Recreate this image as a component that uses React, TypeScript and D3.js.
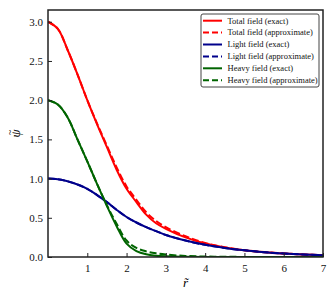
import { useEffect, useRef } from "react";
import * as d3 from "d3";

const rValues = [0, 0.25, 0.5, 0.75, 1, 1.25, 1.5, 1.75, 2, 2.25, 2.5, 2.75, 3, 3.5, 4, 4.5, 5, 5.5, 6, 6.5, 7];

const totalExact = [3.0, 2.91, 2.64, 2.33, 2.0, 1.69, 1.4, 1.11, 0.87, 0.7, 0.54, 0.43, 0.36, 0.25, 0.172, 0.122, 0.086, 0.062, 0.045, 0.032, 0.022];
const totalApprox = [3.0, 2.91, 2.64, 2.33, 2.0, 1.7, 1.42, 1.14, 0.9, 0.73, 0.57, 0.46, 0.38, 0.265, 0.178, 0.124, 0.087, 0.063, 0.045, 0.032, 0.022];
const lightExact = [1.0, 0.991, 0.965, 0.925, 0.87, 0.79, 0.7, 0.6, 0.51, 0.44, 0.38, 0.33, 0.28, 0.21, 0.155, 0.115, 0.085, 0.062, 0.045, 0.032, 0.022];
const lightApprox = [1.0, 0.991, 0.965, 0.925, 0.87, 0.79, 0.7, 0.6, 0.51, 0.44, 0.38, 0.33, 0.28, 0.21, 0.155, 0.115, 0.085, 0.062, 0.045, 0.032, 0.022];
const heavyExact = [2.0, 1.945, 1.78, 1.5, 1.22, 0.93, 0.65, 0.39, 0.17, 0.075, 0.034, 0.016, 0.008, 0.003, 0.001, 0, 0, 0, 0, 0, 0];
const heavyApprox = [2.0, 1.945, 1.78, 1.5, 1.22, 0.93, 0.66, 0.42, 0.21, 0.115, 0.072, 0.047, 0.031, 0.014, 0.006, 0.003, 0.001, 0, 0, 0, 0];

const seriesNames = [
  "Total field (exact)",
  "Total field (approximate)",
  "Light field (exact)",
  "Light field (approximate)",
  "Heavy field (exact)",
  "Heavy field (approximate)",
];
const seriesValues = [totalExact, totalApprox, lightExact, lightApprox, heavyExact, heavyApprox];
const seriesColors = ["#ff0000", "#ff0000", "#00008b", "#00008b", "#006400", "#006400"];
const seriesDashed = [false, true, false, true, false, true];

const xTicks = [1, 2, 3, 4, 5, 6, 7];
const yTicks = [0, 0.5, 1, 1.5, 2, 2.5, 3];

const App = () => {
  const svgRef = useRef<SVGSVGElement>(null);
  const W = 336;
  const H = 300;
  const margin = { top: 10, right: 13, bottom: 43, left: 48 };

  useEffect(() => {
    const svg = d3.select(svgRef.current);
    svg.selectAll("*").remove();
    const font = "'Liberation Serif', 'Times New Roman', serif";

    const xScale = d3.scaleLinear().domain([0, 7]).range([margin.left, W - margin.right]);
    const yScale = d3.scaleLinear().domain([0, 3.15]).range([H - margin.bottom, margin.top]);

    svg
      .append("defs")
      .append("clipPath")
      .attr("id", "plotclip")
      .append("rect")
      .attr("x", margin.left)
      .attr("y", margin.top)
      .attr("width", W - margin.left - margin.right)
      .attr("height", H - margin.top - margin.bottom);

    // curves
    const line = d3
      .line<number>()
      .x((d, i) => xScale(rValues[i]))
      .y((d) => yScale(d))
      .curve(d3.curveCatmullRom.alpha(0.5));

    const plot = svg.append("g").attr("clip-path", "url(#plotclip)");
    seriesValues.forEach((vals, i) => {
      plot
        .append("path")
        .datum(vals)
        .attr("d", line)
        .attr("fill", "none")
        .attr("stroke", seriesColors[i])
        .attr("stroke-width", 2)
        .attr("stroke-dasharray", seriesDashed[i] ? "7,3" : null);
    });

    // axes
    const xAxis = d3.axisBottom(xScale).tickValues(xTicks).tickFormat(d3.format("d")).tickSizeInner(-4).tickSizeOuter(0).tickPadding(7);
    const yAxis = d3.axisLeft(yScale).tickValues(yTicks).tickFormat(d3.format(".1f")).tickSizeInner(-4).tickSizeOuter(0).tickPadding(5);

    const gx = svg.append("g").attr("transform", `translate(0, ${H - margin.bottom})`).call(xAxis);
    const gy = svg.append("g").attr("transform", `translate(${margin.left}, 0)`).call(yAxis);
    [gx, gy].forEach((g) => {
      g.select(".domain").remove();
      g.selectAll("line").attr("stroke", "#222").attr("stroke-width", 1);
      g.selectAll("text").attr("font-family", font).attr("font-size", 11).attr("fill", "#111");
    });

    // frame
    svg
      .append("rect")
      .attr("x", margin.left)
      .attr("y", margin.top)
      .attr("width", W - margin.left - margin.right)
      .attr("height", H - margin.top - margin.bottom)
      .attr("fill", "none")
      .attr("stroke", "#222")
      .attr("stroke-width", 1.5);

    // axis labels
    svg
      .append("text")
      .attr("x", (margin.left + W - margin.right) / 2)
      .attr("y", 287)
      .attr("text-anchor", "middle")
      .attr("font-family", font)
      .attr("font-style", "italic")
      .attr("font-size", 13)
      .text("r\u0303");

    const yl = svg
      .append("g")
      .attr("transform", `translate(20, ${(margin.top + H - margin.bottom) / 2}) rotate(-90)`);
    yl.append("text")
      .attr("text-anchor", "middle")
      .attr("font-family", font)
      .attr("font-style", "italic")
      .attr("font-size", 13)
      .text("\u03c8");
    yl.append("text")
      .attr("x", 1)
      .attr("y", -7)
      .attr("text-anchor", "middle")
      .attr("font-family", font)
      .attr("font-size", 10)
      .text("~");

    // legend
    const lg = svg.append("g").attr("transform", "translate(201, 14)");
    lg.append("rect")
      .attr("width", 118)
      .attr("height", 73)
      .attr("rx", 2)
      .attr("fill", "white")
      .attr("stroke", "#444")
      .attr("stroke-width", 1);
    seriesNames.forEach((name, i) => {
      const y = 6.7 + i * 11.9;
      lg.append("line")
        .attr("x1", 2)
        .attr("x2", 21)
        .attr("y1", y)
        .attr("y2", y)
        .attr("stroke", seriesColors[i])
        .attr("stroke-width", 2)
        .attr("stroke-dasharray", seriesDashed[i] ? "6,3" : null);
      lg.append("text")
        .attr("x", 26.5)
        .attr("y", y)
        .attr("dy", "0.33em")
        .attr("font-family", font)
        .attr("font-size", 8.5)
        .attr("fill", "#111")
        .text(name);
    });
  }, []);

  return <svg ref={svgRef} width={W} height={H} viewBox={`0 0 ${W} ${H}`} style={{ display: "block", margin: "-8px" }}></svg>;
};

export default App;
